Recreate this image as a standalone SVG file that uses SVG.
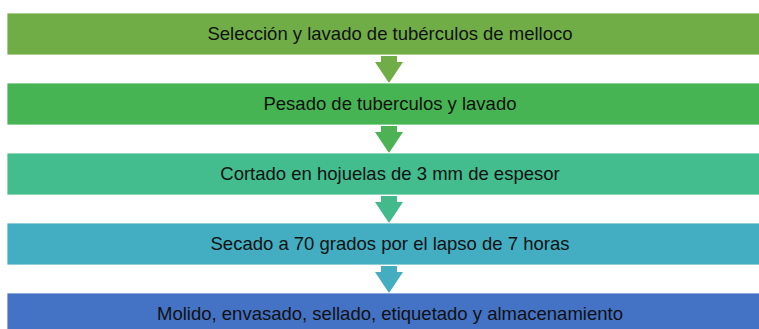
<svg xmlns="http://www.w3.org/2000/svg" width="759" height="329" viewBox="0 0 759 329">
<style>
.box{stroke:#ffffff;stroke-width:0.8}
.t{font-family:"Liberation Sans",Arial,sans-serif;font-size:18.5px;fill:#111111;text-anchor:middle}
</style>
<rect width="759" height="329" fill="#ffffff"/>
<g id="connectors">
<path d="M381 56 H397 V62 H403 L389 83 L375 62 H381 Z" fill="#70AD47"/>
<path d="M381 126 H397 V132 H403 L389 153 L375 132 H381 Z" fill="#4CB253"/>
<path d="M381 196 H397 V202 H403 L389 223 L375 202 H381 Z" fill="#43BA8C"/>
<path d="M381 266 H397 V272 H403 L389 293 L375 272 H381 Z" fill="#44AEC0"/>
</g>
<g id="n1"><rect class="box" x="7" y="13" width="760" height="42" fill="#70AD47"/><text class="t" x="390" y="40">Selección y lavado de tubérculos de melloco</text></g>
<g id="n2"><rect class="box" x="7" y="83" width="760" height="42" fill="#47B453"/><text class="t" x="390" y="110">Pesado de tuberculos y lavado</text></g>
<g id="n3"><rect class="box" x="7" y="153" width="760" height="42" fill="#43BC8E"/><text class="t" x="390" y="180">Cortado en hojuelas de 3 mm de espesor</text></g>
<g id="n4"><rect class="box" x="7" y="223" width="760" height="42" fill="#43ADC1"/><text class="t" x="390" y="250">Secado a 70 grados por el lapso de 7 horas</text></g>
<g id="n5"><rect class="box" x="7" y="293" width="760" height="42" fill="#4472C4"/><text class="t" x="390" y="320">Molido, envasado, sellado, etiquetado y almacenamiento</text></g>
</svg>
